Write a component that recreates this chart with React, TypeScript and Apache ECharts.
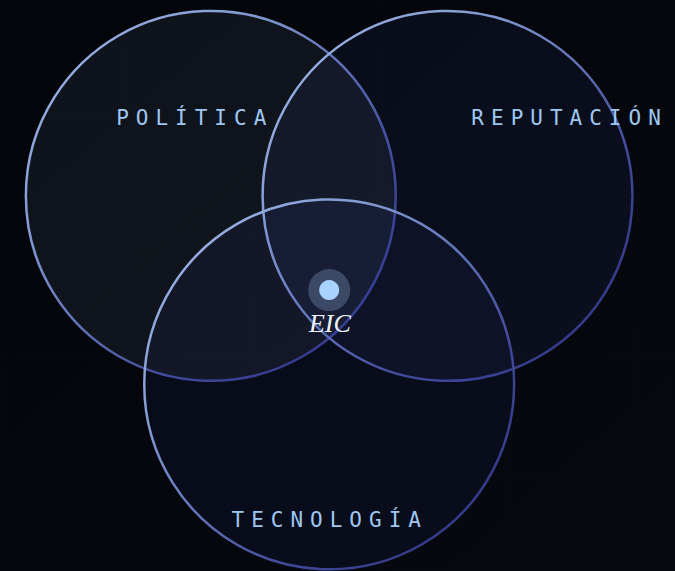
import React, { useEffect, useRef } from "react";
import * as echarts from "echarts";

// Sets of the Venn diagram (radius in data units)
const setNames = ["POLÍTICA", "REPUTACIÓN", "TECNOLOGÍA"];
const centerX = [-64, 64, 0];
const centerY = [51, 51, -51];
const radius = [100, 100, 100];
// Label anchors (data units)
const labelX = [-72.7, 130.0, 0.3];
const labelY = [93.2, 93.2, -124.5];
// Core intersection
const coreName = "EIC";
const corePoint = [0, 0];
const coreLabelPoint = [0.4, -17.8];
// Visible data window
const xRange = [-178, 187];
const yRange = [-152, 157];

const fills = [
  "rgba(140,160,200,0.085)",
  "rgba(90,110,230,0.07)",
  "rgba(80,90,230,0.055)",
];

export default function App() {
  const chartRef = useRef<HTMLDivElement>(null);

  useEffect(() => {
    document.body.style.margin = "0";
    const el = chartRef.current!;
    const chart = echarts.init(el, null, { renderer: "svg" });

    const circleData = setNames.map((_, i) => [centerX[i], centerY[i], radius[i], i]);
    const labelData = setNames.map((_, i) => [labelX[i], labelY[i]]);

    const strokeGradient = () =>
      new echarts.graphic.LinearGradient(0, 0, 1, 1, [
        { offset: 0, color: "#a3bbea" },
        { offset: 0.3, color: "#839bd2" },
        { offset: 0.7, color: "#3f4898" },
        { offset: 1, color: "#2c3080" },
      ]);

    const gridAxisCommon = {
      type: "value" as const,
      axisLine: { show: false },
      axisTick: { show: false },
      axisLabel: { show: false },
      splitLine: { show: true, lineStyle: { color: "rgba(150,170,210,0.02)", width: 1 } },
    };

    chart.setOption({
      animation: false,
      backgroundColor: new echarts.graphic.LinearGradient(0, 0, 1, 1, [
        { offset: 0, color: "#03050a" },
        { offset: 1, color: "#070910" },
      ]),
      grid: [
        { left: 0, right: 0, top: 0, bottom: 0 },
        { left: -45, right: 0, top: -83, bottom: 0 },
      ],
      xAxis: [
        { type: "value", gridIndex: 0, min: xRange[0], max: xRange[1], show: false },
        { ...gridAxisCommon, gridIndex: 1, min: 0, max: 720, interval: 136 },
      ],
      yAxis: [
        { type: "value", gridIndex: 0, min: yRange[0], max: yRange[1], show: false },
        { ...gridAxisCommon, gridIndex: 1, inverse: true, min: 0, max: 654, interval: 136 },
      ],
      series: [
        {
          type: "custom",
          name: "sets",
          xAxisIndex: 0,
          yAxisIndex: 0,
          silent: true,
          z: 2,
          data: circleData,
          renderItem: (params: any, api: any) => {
            const c = api.coord([api.value(0), api.value(1)]);
            const r = api.size([api.value(2), 0])[0];
            const i = params.dataIndex;
            return {
              type: "circle",
              shape: { cx: c[0], cy: c[1], r },
              style: { fill: fills[i], stroke: strokeGradient(), lineWidth: 2.5 },
            };
          },
        },
        {
          type: "custom",
          name: "labels",
          xAxisIndex: 0,
          yAxisIndex: 0,
          silent: true,
          z: 4,
          data: labelData,
          renderItem: (params: any, api: any) => {
            const p = api.coord([api.value(0), api.value(1)]);
            return {
              type: "text",
              x: p[0],
              y: p[1],
              style: {
                text: setNames[params.dataIndex],
                fill: "#9ec8f2",
                font: '21px "DejaVu Sans Mono", monospace',
                align: "center",
                verticalAlign: "middle",
              },
            };
          },
        },
        {
          type: "scatter",
          name: "halo",
          xAxisIndex: 0,
          yAxisIndex: 0,
          silent: true,
          z: 5,
          symbol: "circle",
          symbolSize: 42,
          itemStyle: { color: "rgba(140,165,205,0.33)", opacity: 1 },
          data: [corePoint],
        },
        {
          type: "scatter",
          name: coreName,
          xAxisIndex: 0,
          yAxisIndex: 0,
          silent: true,
          z: 6,
          symbol: "circle",
          symbolSize: 20,
          itemStyle: { color: "#a8d2ff", opacity: 1 },
          data: [corePoint],
        },
        {
          type: "custom",
          name: "coreLabel",
          xAxisIndex: 0,
          yAxisIndex: 0,
          silent: true,
          z: 7,
          data: [coreLabelPoint],
          renderItem: (params: any, api: any) => {
            const p = api.coord([api.value(0), api.value(1)]);
            return {
              type: "text",
              x: p[0],
              y: p[1],
              style: {
                text: coreName,
                fill: "#eef2fa",
                font: 'italic 26px "Liberation Serif", serif',
                align: "center",
                verticalAlign: "middle",
              },
            };
          },
        },
      ],
    });

    const applySpacing = () => {
      el.querySelectorAll("text").forEach((t) => {
        if (setNames.includes((t.textContent || "").trim())) {
          t.setAttribute("letter-spacing", "7");
        }
      });
    };
    applySpacing();
    chart.on("finished", applySpacing);

    return () => {
      chart.dispose();
    };
  }, []);

  return <div ref={chartRef} style={{ width: 675, height: 571 }} />;
}
